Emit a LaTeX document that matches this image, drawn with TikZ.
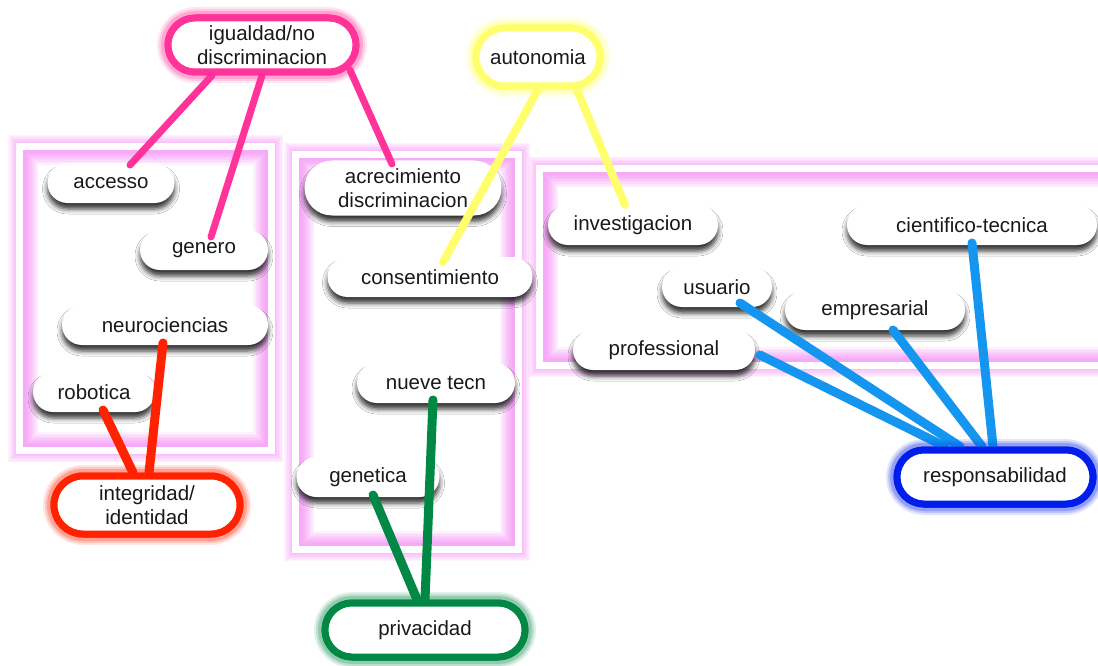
\documentclass[tikz,border=0pt]{standalone}
\usepackage{fontspec}
\setmainfont{Liberation Sans}
\usetikzlibrary{shapes.misc,shadows.blur}
\definecolor{pinkc}{RGB}{255,51,153}
\definecolor{yellowc}{RGB}{255,255,110}
\definecolor{redc}{RGB}{255,34,0}
\definecolor{greenc}{RGB}{0,136,68}
\definecolor{bluel}{RGB}{20,150,240}
\definecolor{blueb}{RGB}{0,30,235}
\definecolor{panelc}{RGB}{245,110,245}
\begin{document}
\begin{tikzpicture}[x=1pt,y=-1pt,
  every node/.style={font=\fontsize{20.5}{23.5}\selectfont, text=black!90, align=center},
  pill/.style={rounded rectangle, fill=white, minimum height=40pt, inner sep=0pt,
     blur shadow={shadow xshift=0pt, shadow yshift=-6pt, shadow blur radius=5pt, shadow opacity=80}},
  topic/.style={rounded rectangle, fill=white, draw=#1, line width=7pt, inner sep=0pt,
     preaction={draw=#1, line width=22pt, opacity=.06},
     preaction={draw=#1, line width=18pt, opacity=.08},
     preaction={draw=#1, line width=14pt, opacity=.12}},
  glowband/.style={draw=panelc, line width=#1},
  panelband/.style={draw=white, line width=7pt},
  link/.style={draw=#1, line width=9pt, line cap=round},
]
\fill[white] (0,0) rectangle (1098,666);
\useasboundingbox (0,0) rectangle (1098,666);

% panels: pink glow centred on the inner edge, white band outside it
\foreach \xa/\ya/\xb/\yb in {23/150/268/447, 299/158/515/546, 543/172/1120/362}{
  \foreach \w in {30,27,24,21,18,15,12,9,6}{
    \draw[glowband=\w pt, opacity=.09] (\xa,\ya) rectangle (\xb,\yb);
  }
  \draw[panelband] (\xa-3.5,\ya-3.5) rectangle (\xb+3.5,\yb+3.5);
}

% pills
\node[pill, minimum width=127pt] (accesso) at (111,183) {accesso};
\node[pill, minimum width=128pt] (genero) at (204,250) {genero};
\node[pill, minimum width=206pt] (neuro) at (165,325) {neurociencias};
\node[pill, minimum width=122pt] (robotica) at (94,392) {robotica};
\node[pill, minimum width=197pt, minimum height=55pt] (acrec) at (403,188) {acrecimiento\\discriminacion};
\node[pill, minimum width=205pt] (consent) at (430,277) {consentimiento};
\node[pill, minimum width=158pt] (nueve) at (436,383) {nueve tecn};
\node[pill, minimum width=143pt] (genetica) at (368,477) {genetica};
\node[pill, minimum width=170pt] (invest) at (633,225) {investigacion};
\node[pill, minimum width=250pt] (cient) at (972,225) {cientifico-tecnica};
\node[pill, minimum width=110pt] (usuario) at (717,287) {usuario};
\node[pill, minimum width=180pt] (empres) at (875,310) {empresarial};
\node[pill, minimum width=182pt] (profes) at (664,350) {professional};

% topics
\node[topic=pinkc, minimum width=188pt, minimum height=54pt] (igualdad) at (262,45) {igualdad/no\\discriminacion};
\node[topic=yellowc, minimum width=124pt, minimum height=58pt] (autonomia) at (538,57) {autonomia};
\node[topic=redc, minimum width=186pt, minimum height=58pt] (integridad) at (147,505) {integridad/\\identidad};
\node[topic=greenc, minimum width=200pt, minimum height=54pt] (privacidad) at (425,630) {privacidad};
\node[topic=blueb, minimum width=196pt, minimum height=54pt] (respons) at (995,477) {responsabilidad};

% links
\draw[link=pinkc, line width=7pt] ([xshift=-50pt]igualdad.south) -- ([xshift=19pt,yshift=18pt]accesso.center);
\draw[link=pinkc, line width=7pt] (igualdad.south) -- ([xshift=7pt,yshift=13pt]genero.center);
\draw[link=pinkc, line width=7pt] ([xshift=88pt,yshift=-25pt]igualdad.center) -- ([xshift=-11pt,yshift=24pt]acrec.center);
\draw[link=yellowc, line width=8pt] (autonomia.south) -- ([xshift=13pt,yshift=15pt]consent.center);
\draw[link=yellowc, line width=8pt] ([xshift=37pt,yshift=-28pt]autonomia.center) -- ([xshift=-8pt,yshift=20pt]invest.center);
\draw[link=redc] ([xshift=-2pt,yshift=-18pt]neuro.center) -- ([xshift=2pt]integridad.north);
\draw[link=redc] ([xshift=9pt,yshift=-18pt]robotica.center) -- ([xshift=-14pt]integridad.north);
\draw[link=greenc] ([xshift=-3pt,yshift=-17pt]nueve.center) -- ([xshift=0pt]privacidad.north);
\draw[link=greenc] ([xshift=5pt,yshift=-18pt]genetica.center) -- ([xshift=-8pt]privacidad.north);
\draw[link=bluel] ([xshift=23pt,yshift=-16pt]usuario.center) -- ([xshift=-35pt]respons.north);
\draw[link=bluel] ([xshift=96pt,yshift=-5pt]profes.center) -- ([xshift=-50pt]respons.north);
\draw[link=bluel] ([xshift=18pt,yshift=-20pt]empres.center) -- ([xshift=-13pt]respons.north);
\draw[link=bluel] ([xshift=0pt,yshift=-18pt]cient.center) -- ([xshift=-2pt]respons.north);

% topic boxes redrawn over their link ends
\node[topic=redc, minimum width=186pt, minimum height=58pt] at (integridad) {integridad/\\identidad};
\node[topic=greenc, minimum width=200pt, minimum height=54pt] at (privacidad) {privacidad};
\node[topic=blueb, minimum width=196pt, minimum height=54pt] at (respons) {responsabilidad};
\node[topic=pinkc, minimum width=188pt, minimum height=54pt] at (igualdad) {igualdad/no\\discriminacion};
\node[topic=yellowc, minimum width=124pt, minimum height=58pt] at (autonomia) {autonomia};
\end{tikzpicture}
\end{document}
